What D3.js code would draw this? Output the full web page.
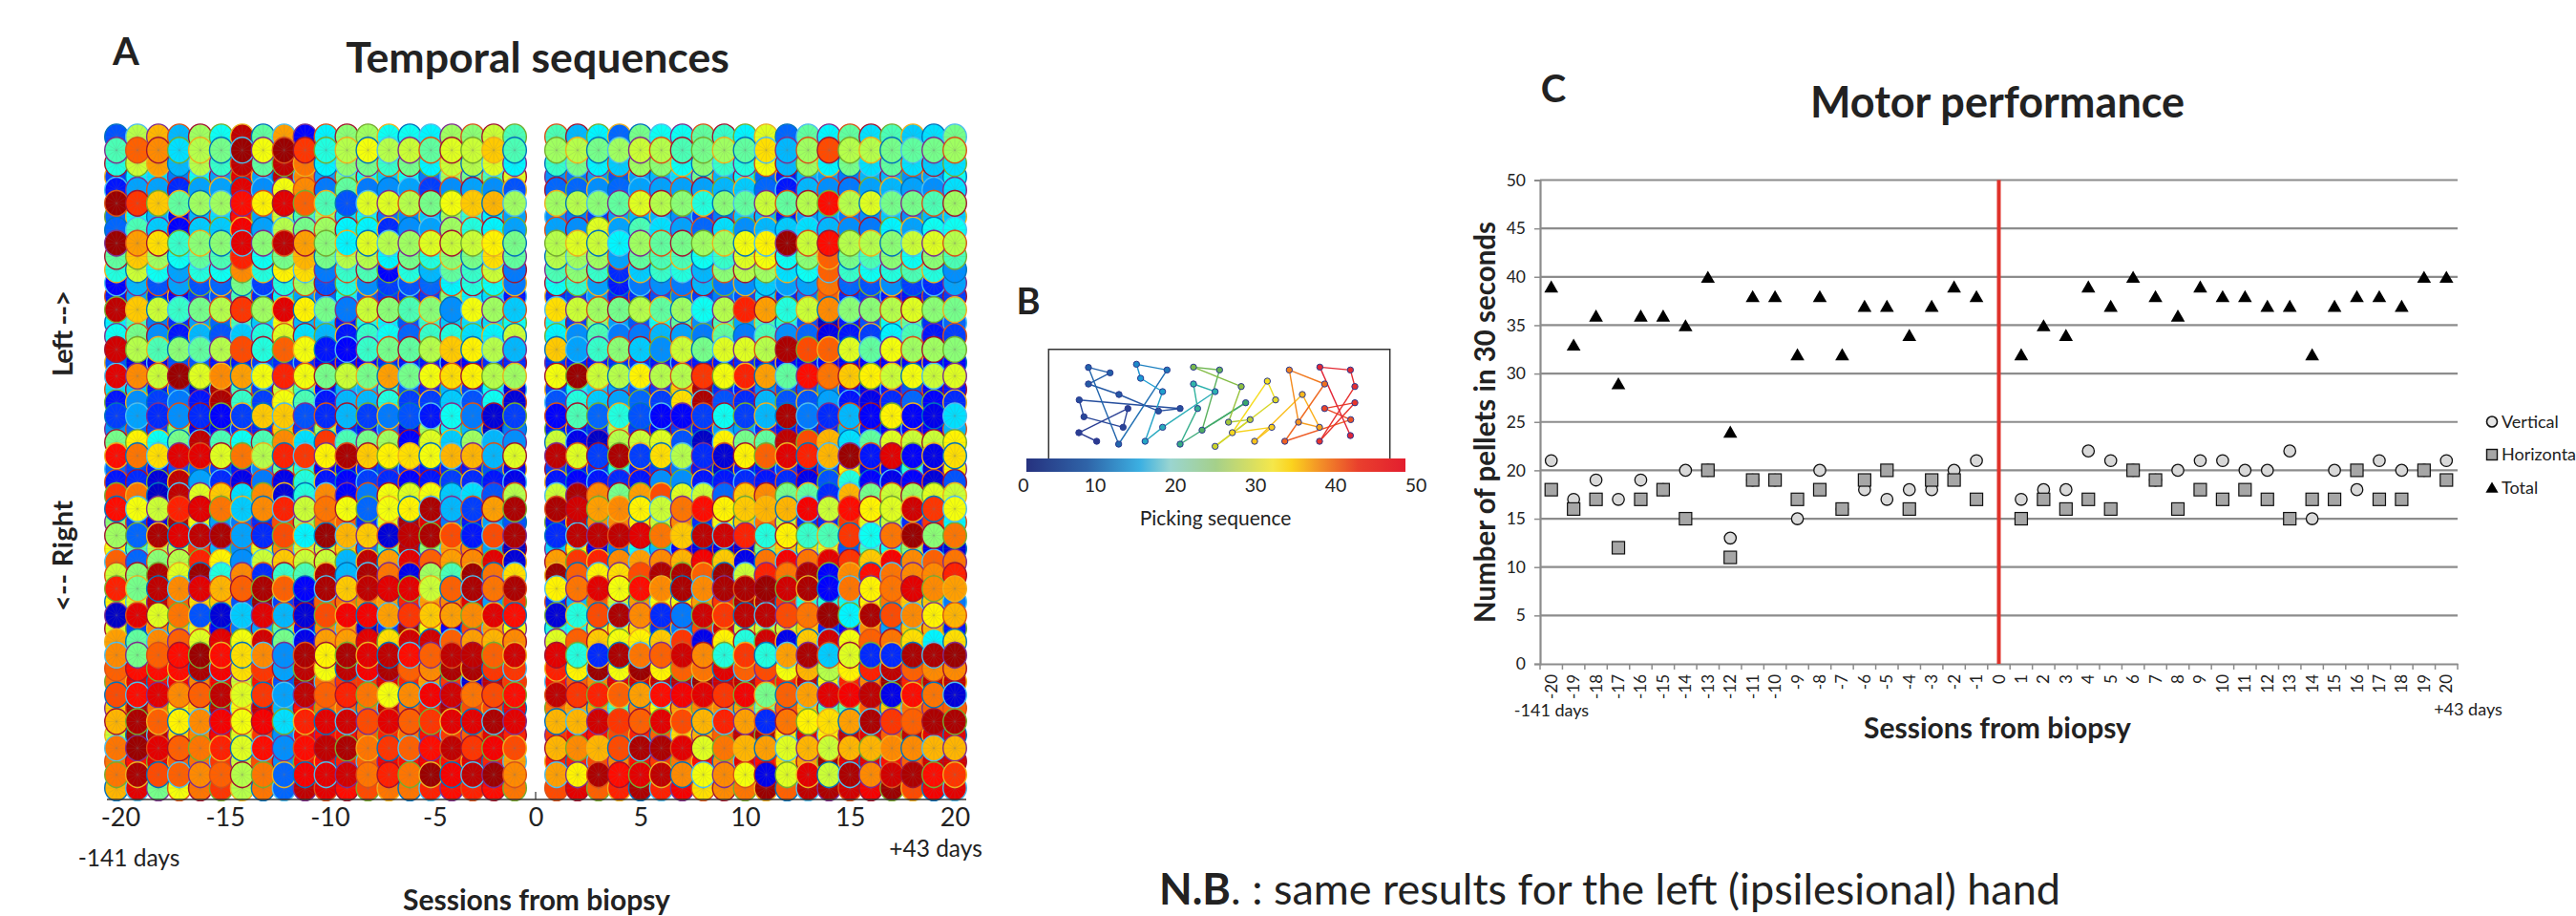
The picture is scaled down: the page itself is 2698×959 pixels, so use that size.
<!DOCTYPE html>
<html><head><meta charset="utf-8">
<script src="https://cdnjs.cloudflare.com/ajax/libs/d3/7.8.5/d3.min.js"></script>
<style>html,body{margin:0;padding:0;background:#fff;overflow:hidden}svg{display:block}text{font-family:Lato,"Open Sans",sans-serif;fill:#222}</style>
</head><body><svg id="c" width="2698" height="959"></svg>
<script>
// Panel A: pick sequence value per pellet (row) and session (column)
const sessionsBefore=[-20,-19,-18,-17,-16,-15,-14,-13,-12,-11,-10,-9,-8,-7,-6,-5,-4,-3,-2,-1];
const sessionsAfter=[1,2,3,4,5,6,7,8,9,10,11,12,13,14,15,16,17,18,19,20];
const seqBefore=[
[10,27,34,15,26,19,46,23,35,6,18,25,26,19,19,18,26,25,28,22],
[22,38,36,17,27,24,48,30,48,40,20,27,30,27,28,23,29,28,33,22],
[20,28,35,15,27,21,46,23,46,37,18,25,24,21,24,18,28,27,29,18],
[9,18,17,12,19,14,44,14,46,36,14,24,19,16,19,12,26,24,22,29],
[7,14,14,8,14,14,44,13,30,36,12,23,12,13,14,9,13,14,13,10],
[48,40,33,23,26,26,42,31,44,38,22,10,29,29,27,24,30,33,34,26],
[11,19,15,5,15,17,42,14,28,22,26,17,19,12,13,16,26,21,18,14],
[11,22,16,6,16,16,43,14,27,24,26,18,18,8,13,14,26,20,18,14],
[48,35,32,21,25,25,44,25,46,35,25,18,29,27,26,29,28,28,31,24],
[23,33,26,19,23,22,41,19,24,34,24,27,27,18,24,20,25,24,32,23],
[20,28,19,14,20,19,36,20,31,32,12,21,22,6,20,15,23,21,28,12],
[6,15,10,14,10,11,24,9,20,26,10,20,13,9,10,11,18,20,19,12],
[7,14,7,6,9,10,22,8,18,14,11,19,11,9,8,9,25,18,17,7],
[46,33,28,21,24,27,40,26,44,31,24,12,28,25,22,25,13,30,26,16],
[18,22,12,8,14,11,22,16,30,15,16,7,20,18,10,21,16,17,17,19],
[19,24,13,7,15,10,16,20,29,17,15,7,21,19,11,21,20,17,18,28],
[45,27,22,25,23,27,39,20,38,30,7,6,21,24,23,27,33,31,27,15],
[10,5,5,10,10,7,7,9,8,8,6,6,6,8,7,7,5,6,8,8],
[44,36,28,48,29,36,35,30,41,30,24,28,24,35,24,30,32,31,27,26],
[17,16,7,11,4,47,22,9,28,22,6,15,15,22,10,8,15,9,19,4],
[7,13,9,12,7,47,21,9,30,22,7,15,15,20,9,9,16,10,19,4],
[9,14,8,13,8,6,9,33,33,10,8,15,9,12,10,7,19,12,4,9],
[13,11,9,24,5,6,8,8,33,9,26,8,7,12,5,26,18,15,3,12],
[24,31,19,24,46,22,19,22,36,17,40,22,24,26,6,29,16,26,15,13],
[42,37,32,44,44,29,37,27,41,40,31,47,33,31,32,30,34,34,15,29],
[11,9,7,10,11,9,7,13,24,20,6,6,8,9,8,7,8,7,10,5],
[7,8,4,46,14,8,5,12,5,20,7,6,9,8,6,7,9,8,7,5],
[40,37,3,46,29,33,17,36,4,20,36,6,12,30,29,30,16,17,10,27],
[42,30,28,41,44,37,16,36,41,28,37,30,11,30,31,47,15,9,35,47],
[25,9,5,47,30,14,12,8,39,26,37,38,8,29,47,44,12,7,14,10],
[26,11,47,44,46,47,14,8,39,18,48,34,33,4,46,47,39,7,39,47],
[30,22,27,27,40,15,13,29,36,28,28,33,12,22,46,25,35,36,14,3],
[38,11,25,27,41,31,13,28,33,28,28,15,46,35,44,38,35,36,44,4],
[28,25,47,29,48,20,36,8,21,22,47,15,47,37,5,26,22,48,37,32],
[41,24,46,36,44,34,38,47,38,6,47,33,46,44,44,28,38,47,37,47],
[31,28,46,38,32,33,10,48,9,4,38,37,36,35,41,35,36,44,14,40],
[3,44,29,37,10,4,16,44,15,4,39,43,43,35,40,33,35,36,44,42],
[29,9,36,34,29,6,12,14,23,6,36,35,4,9,48,30,6,39,35,30],
[35,23,36,38,29,44,30,45,24,5,35,35,44,32,45,45,38,35,34,36],
[36,24,38,42,48,42,32,36,13,47,31,47,44,46,42,38,46,46,38,45],
[38,42,42,42,47,43,32,40,14,46,30,46,43,47,38,36,47,47,40,40],
[37,44,42,43,36,43,28,42,10,47,37,40,40,44,41,35,40,4,46,40],
[39,42,44,36,38,46,29,40,14,46,38,41,37,30,36,43,45,37,39,42],
[33,47,37,30,33,46,30,46,15,42,37,38,37,46,37,41,47,39,39,43],
[34,47,38,31,36,43,30,43,17,41,44,45,39,44,38,40,44,44,47,44],
[28,48,46,32,36,43,29,40,13,43,42,42,38,41,37,42,40,38,44,41],
[37,48,44,38,37,41,29,42,13,42,46,47,37,40,38,42,46,40,43,39],
[37,42,44,38,37,40,28,39,13,42,42,41,38,43,42,43,42,44,41,35],
[37,47,39,38,36,38,27,37,11,43,44,45,37,41,37,48,43,46,48,36],
[34,44,24,30,37,40,27,37,11,46,44,42,39,37,37,41,42,41,42,37]];
const seqAfter=[
[22,15,18,11,24,19,19,23,21,18,29,11,23,18,23,17,22,16,17,24],
[26,27,24,26,28,27,22,24,26,23,32,15,26,39,27,27,24,23,24,26],
[21,24,18,16,26,25,19,25,21,20,30,15,26,18,24,17,23,17,16,17],
[13,12,14,10,14,15,17,24,15,18,11,7,15,14,12,15,15,13,14,19],
[11,11,13,11,14,14,14,14,15,16,11,7,15,13,12,14,15,14,13,17],
[26,27,25,23,29,27,25,20,25,23,28,23,27,42,27,29,24,24,22,26],
[13,12,9,14,15,15,13,9,12,16,15,7,14,15,12,13,16,13,15,16],
[14,13,29,14,22,17,14,11,17,13,15,16,17,15,13,12,18,14,19,19],
[27,29,28,18,26,23,24,26,26,30,31,48,28,42,27,27,25,28,29,27],
[27,26,26,14,23,22,22,19,21,29,30,19,25,38,24,22,25,19,25,22],
[22,25,21,8,16,21,20,15,25,27,26,17,19,38,21,19,20,22,20,13],
[19,21,14,7,12,13,12,15,12,13,16,14,14,37,11,10,13,9,8,14],
[8,9,14,8,8,10,12,9,12,10,17,8,12,38,8,9,7,7,8,9],
[32,28,26,24,27,23,26,19,27,41,35,20,28,36,25,25,27,29,25,24],
[19,9,25,14,10,19,23,13,22,14,22,20,10,3,7,10,19,23,8,11],
[18,13,22,12,12,15,14,12,23,12,22,13,11,5,7,9,18,22,7,9],
[33,14,21,25,16,13,28,24,29,29,27,47,39,38,29,23,30,26,26,25],
[8,7,7,8,8,7,7,7,7,8,7,6,6,6,6,6,6,6,6,6],
[30,48,28,27,31,27,27,40,30,41,35,23,42,37,33,31,28,30,28,29],
[9,19,16,14,10,9,33,47,8,7,13,10,10,13,7,5,7,10,6,7],
[10,20,16,14,11,9,32,47,10,8,15,10,10,14,7,5,8,11,6,8],
[6,22,11,20,10,6,6,9,19,9,15,47,12,8,15,6,31,6,5,17],
[7,7,8,27,9,6,9,7,14,14,8,7,8,8,15,7,6,6,6,15],
[28,5,3,27,28,29,10,3,31,24,23,46,39,34,17,23,29,28,28,31],
[46,29,9,47,9,32,27,8,4,31,38,44,41,34,48,7,44,6,5,32],
[9,7,8,20,7,9,12,7,4,7,7,9,5,10,31,5,6,20,4,31],
[7,6,7,8,7,13,13,7,7,8,7,8,5,10,20,6,5,6,4,10],
[28,47,36,24,35,39,29,28,11,33,36,24,23,8,34,24,28,26,29,28],
[47,45,35,36,31,28,37,42,31,33,34,34,43,28,42,31,29,45,40,30],
[7,45,36,36,31,28,36,8,30,33,37,28,8,8,40,29,28,8,40,18],
[8,46,46,46,44,37,33,46,45,41,20,31,21,22,40,19,37,48,25,37],
[16,31,5,12,19,15,6,5,5,4,24,33,32,29,10,21,19,25,5,4],
[35,40,41,36,35,36,34,43,33,5,37,43,37,44,40,33,43,36,38,37],
[48,38,31,32,39,47,47,38,48,28,41,37,47,6,36,42,37,36,36,41],
[31,37,44,30,42,36,47,36,47,47,48,45,47,6,37,31,37,44,36,35],
[8,15,38,28,35,30,30,35,40,47,47,40,20,20,19,31,37,33,33,12],
[4,20,39,47,36,8,12,45,40,46,46,39,37,48,18,47,39,36,31,34],
[20,19,29,31,32,8,12,39,45,28,28,28,33,8,6,36,14,33,34,7],
[29,38,33,30,31,33,40,5,31,20,45,5,33,45,30,38,37,32,18,32],
[44,20,8,47,37,38,45,36,20,40,20,35,47,16,29,8,8,47,47,48],
[41,31,48,30,48,31,38,37,44,38,39,30,34,27,31,41,46,38,36,36],
[42,38,36,44,45,46,46,48,45,46,41,41,46,30,41,36,48,41,46,46],
[46,40,41,38,35,42,43,44,40,43,24,38,35,44,43,46,5,42,37,4],
[37,35,35,22,36,30,35,36,36,35,25,38,33,22,23,38,33,37,38,38],
[34,34,45,40,38,44,39,34,41,35,8,37,31,32,35,47,40,38,47,47],
[40,42,42,39,41,38,32,34,38,46,47,31,44,31,46,44,38,46,44,44],
[34,36,34,39,47,47,44,29,37,34,35,29,34,28,34,34,36,36,34,34],
[41,41,39,36,42,40,37,42,36,44,42,32,35,48,44,44,42,38,45,45],
[35,31,47,42,44,46,36,30,36,30,5,29,44,28,47,36,45,47,42,40],
[39,44,38,41,47,41,43,32,36,37,48,38,46,47,45,43,48,39,43,44]];
// paint order of rows, back to front, as seen in the overlaps
const rowPaintOrder=[17,12,25,26,22,3,4,6,7,11,14,15,19,20,21,2,0,31,29,10,37,35,36,43,41,47,9,23,38,40,42,45,32,27,33,49,46,44,48,39,34,30,28,24,18,16,13,8,5,1];
const sessionTicksA=[-20,-15,-10,-5,0,5,10,15,20];
const outlineCycle=["#0072BD","#D95319","#EDB120","#7E2F8E","#77AC30","#4DBEEE","#A2142F"];
// Panel B: board positions of the 50 picks, in picking order
const boardX=[266,210,364,349,226,211,528,460,336,240,308,240,335,487,391,404,473,418,473,638,570,583,528,734,597,652,570,720,680,748,638,828,802,692,816,762,912,966,900,871,982,857,1064,982,1077,966,1077,1063,967,1063];
const boardY=[366,339,263,322,289,236,263,271,219,186,151,134,375,142,124,168,210,366,322,210,186,263,375,245,331,142,133,194,306,298,382,236,177,339,322,366,219,322,306,142,186,366,298,263,245,366,194,142,133,348];
const pickTicks=[0,10,20,30,40,50];
const pickStops=[0,8,15,19,25,32.5,35,39,43.75,50];
const pickColors=["#26327f","#2f64a8","#3cb0e2","#9ad5d0","#a5d08a","#f5e74a","#fbd31e","#f28c28","#e9402d","#e31e2f"];
const nodeStops=[0,12,15,20,23,27,32,36,40,44,50];
const nodeColors=["#2b3990","#2166ac","#1b9ad6","#2fb5a8","#3aa76d","#8dbf3f","#f5e11e","#fbb81a","#f0701f","#e8352b","#e0203a"];
// Panel C: motor performance
const sessionsC=d3.range(-20,21);
const verticalVals=[21,17,19,17,19,18,20,20,13,19,19,15,20,16,18,17,18,18,20,21,null,17,18,18,22,21,20,19,20,21,21,20,20,22,15,20,18,21,20,20,21];
const horizontalVals=[18,16,17,12,17,18,15,20,11,19,19,17,18,16,19,20,16,19,19,17,null,15,17,16,17,16,20,19,16,18,17,18,17,15,17,17,20,17,17,20,19];
const totalVals=[39,33,36,29,36,36,35,40,24,38,38,32,38,32,37,37,34,37,39,38,null,32,35,34,39,37,40,38,36,39,38,38,37,37,32,37,38,38,37,40,40];
const yTicksC=[0,5,10,15,20,25,30,35,40,45,50];
const legendNames=["Vertical","Horizontal","Total"];

const svg=d3.select("#c");
function label(x,y,t,size,weight,anchor,rot){
  const s=svg.append("text").attr("x",x).attr("y",y).text(t).attr("font-size",size).attr("font-weight",weight||400).attr("text-anchor",anchor||"middle");
  if(rot)s.attr("transform",`rotate(${rot} ${x} ${y})`);
  return s;
}
// ---------- A
const jet=d3.scaleLinear().domain([0,6,18.5,30.5,42.5,49.5]).range(["#00008f","#0000ff","#00ffff","#ffff00","#ff0000","#800000"]).interpolate(d3.interpolateRgb).clamp(true);
const xA=d3.scaleLinear().domain([-20,20]).range([122,1000]);
const yA=d3.scaleLinear().domain([0,49]).range([143.3,825]);
const gA=svg.append("g");
const rx=12.3,ry=13.4;
const spokes=d3.range(12).map(k=>{const a=k*Math.PI/6;return `M0,0L${(rx*Math.cos(a)).toFixed(1)},${(ry*Math.sin(a)).toFixed(1)}`}).join("");
rowPaintOrder.forEach(r=>{
  [[sessionsBefore,seqBefore],[sessionsAfter,seqAfter]].forEach(([ss,m],h)=>{
    ss.forEach((s,c)=>{
      const g=gA.append("g").attr("transform",`translate(${xA(s)},${yA(r)})`);
      g.append("ellipse").attr("rx",rx).attr("ry",ry).attr("fill",jet(m[r][c])).attr("stroke",outlineCycle[(r*3+c*5+h)%7]).attr("stroke-width",1.4);
      g.append("path").attr("d",spokes).attr("fill","none").attr("stroke","#777").attr("stroke-opacity",.28).attr("stroke-width",.6);
    });
  });
});
const axA=svg.append("g").attr("transform","translate(0,837)").call(d3.axisBottom(xA).tickValues(sessionTicksA).tickSize(0).tickPadding(9).tickFormat(d=>d));
axA.select(".domain").remove();
axA.selectAll("text").attr("font-size",27).style("font-family","Lato").attr("fill","#222").attr("dx",d=>d<0?4:0);
svg.append("line").attr("x1",112).attr("x2",1012).attr("y1",837).attr("y2",837).attr("stroke","#333").attr("stroke-width",1.6);
svg.append("line").attr("x1",xA(0)).attr("x2",xA(0)).attr("y1",829).attr("y2",837).attr("stroke","#333").attr("stroke-width",1.2);
label(135,907,"-141 days",24.5);
label(980,897,"+43 days",24.5);
label(562,953,"Sessions from biopsy",30,700);
label(563,76,"Temporal sequences",44.6,700);
label(132,68,"A",40,700);
label(76,349,"Left -->",29,700,"middle",-90).attr("textLength",90).attr("lengthAdjust","spacing");
label(76,582,"<-- Right",29,700,"middle",-90).attr("textLength",116).attr("lengthAdjust","spacing");
// ---------- B
label(1077,329,"B",38,700);
const bx=d3.scaleLinear().domain([115,1187]).range([1098.3,1455.7]);
const by=d3.scaleLinear().domain([77,420]).range([365.7,480]);
const pickColor=d3.scaleLinear().domain(pickStops).range(pickColors);
const nodeColor=d3.scaleLinear().domain(nodeStops).range(nodeColors);
const pickX=d3.scaleLinear().domain([0,50]).range([1063,1483]);
svg.append("path").attr("d",`M${bx(115)},${by(420)}V${by(77)}H${bx(1187)}V${by(420)}`).attr("fill","none").attr("stroke","#333").attr("stroke-width",1.5);
const gB=svg.append("g");
boardX.forEach((v,i)=>{ if(i<boardX.length-1) gB.append("line").attr("x1",bx(v)).attr("y1",by(boardY[i])).attr("x2",bx(boardX[i+1])).attr("y2",by(boardY[i+1])).attr("stroke",nodeColor(i+.5)).attr("stroke-width",1.4); });
boardX.forEach((v,i)=>{ gB.append("circle").attr("cx",bx(v)).attr("cy",by(boardY[i])).attr("r",3.2).attr("fill",nodeColor(i)).attr("stroke","#2b3990").attr("stroke-width",1); });
const defs=svg.append("defs");
const lg=defs.append("linearGradient").attr("id","pickGrad");
pickStops.forEach((s,i)=>lg.append("stop").attr("offset",s/50).attr("stop-color",pickColors[i]));
svg.append("rect").attr("x",1075).attr("y",480).attr("width",397).attr("height",14).attr("fill","url(#pickGrad)");
pickTicks.forEach(t=>label(pickX(t)+(t===0?9:0),515,t,19.5));
label(1273,550,"Picking sequence",21);
// ---------- C
const xC=d3.scaleBand().domain(sessionsC).range([1613,2574]);
const yC=d3.scaleLinear().domain([0,50]).range([695,188.5]);
const cx=d=>xC(d)+xC.bandwidth()/2;
const grid=svg.append("g");
yTicksC.forEach(t=>{ if(t>0) grid.append("line").attr("x1",1613).attr("x2",2574).attr("y1",yC(t)).attr("y2",yC(t)).attr("stroke","#8c8c8c").attr("stroke-width",2.2); });
const axL=svg.append("g").attr("transform","translate(1613,0)").call(d3.axisLeft(yC).tickValues(yTicksC).tickSize(6).tickPadding(9));
axL.select(".domain").attr("stroke","#8c8c8c").attr("stroke-width",2.2);
axL.selectAll("line").attr("stroke","#8c8c8c").attr("stroke-width",1.5);
axL.selectAll("text").attr("font-size",17.5).style("font-family","Lato").attr("fill","#222");
const axB=svg.append("g").attr("transform","translate(0,695)").call(d3.axisBottom(xC).tickSize(0).tickPadding(0));
axB.select(".domain").attr("stroke","#8c8c8c").attr("stroke-width",2.2);
axB.selectAll("text").attr("font-size",17).style("font-family","Lato").attr("fill","#222").attr("text-anchor","end").attr("dy",0).attr("y",0).attr("transform","translate(6,11) rotate(-90)");
d3.range(42).forEach(i=>svg.append("line").attr("x1",1613+i*xC.step()).attr("x2",1613+i*xC.step()).attr("y1",695).attr("y2",701).attr("stroke","#8c8c8c").attr("stroke-width",1.5));
svg.append("line").attr("x1",cx(0)).attr("x2",cx(0)).attr("y1",188.5).attr("y2",695).attr("stroke","#e0322a").attr("stroke-width",4);
const tri=d3.symbol().type(d3.symbolTriangle).size(92)();
const gC=svg.append("g");
sessionsC.forEach((s,i)=>{ if(verticalVals[i]!=null) gC.append("circle").attr("cx",cx(s)).attr("cy",yC(verticalVals[i])).attr("r",6.2).attr("fill","#d9d9d9").attr("stroke","#111").attr("stroke-width",1.3); });
sessionsC.forEach((s,i)=>{ if(horizontalVals[i]!=null) gC.append("rect").attr("x",cx(s)-6.5).attr("y",yC(horizontalVals[i])-6.5).attr("width",13).attr("height",13).attr("fill","#a6a6a6").attr("stroke","#111").attr("stroke-width",1.2); });
sessionsC.forEach((s,i)=>{ if(totalVals[i]!=null) gC.append("path").attr("d",tri).attr("transform",`translate(${cx(s)},${yC(totalVals[i])+2.1})`).attr("fill","#000"); });
label(1625,750,"-141 days",18,400,"middle");
label(2585,749,"+43 days",18,400,"middle");
label(2092,773,"Sessions from biopsy",30,700);
label(1566,442,"Number of pellets in 30 seconds",29.5,700,"middle",-90);
label(2092,123,"Motor performance",45,700);
label(1627,107,"C",40,700);
// legend
svg.append("circle").attr("cx",2610).attr("cy",441.5).attr("r",5.5).attr("fill","#e6e6e6").attr("stroke","#111").attr("stroke-width",1.6);
svg.append("rect").attr("x",2604.5).attr("y",470.5).attr("width",11).attr("height",11).attr("fill","#a6a6a6").attr("stroke","#111").attr("stroke-width",1.4);
svg.append("path").attr("d",d3.symbol().type(d3.symbolTriangle).size(75)()).attr("transform","translate(2610,512)").attr("fill","#000");
legendNames.forEach((n,i)=>label(2620,[448,482,517][i],n,18,400,"start"));
// note
const note=svg.append("text").attr("x",1214).attr("y",947).attr("font-size",45).attr("text-anchor","start");
note.append("tspan").attr("font-weight",700).text("N.B");
note.append("tspan").text(". : same results for the left (ipsilesional) hand");
</script></body></html>
